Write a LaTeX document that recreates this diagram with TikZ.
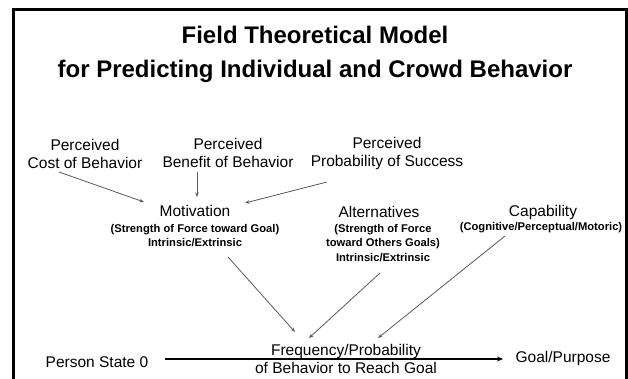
\documentclass[tikz,border=0pt]{standalone}
\usepackage{fontspec}
\setmainfont{Liberation Sans}
\usetikzlibrary{arrows.meta}
\begin{document}
\begin{tikzpicture}[x=1pt,y=-1pt,
  ttl/.style={font=\bfseries\fontsize{24}{34}\selectfont, align=center, inner sep=0},
  lbl/.style={font=\fontsize{15.5}{18}\selectfont, align=center, inner sep=0},
  sub/.style={font=\bfseries\fontsize{11.2}{14.5}\selectfont, align=center, inner sep=0},
  con/.style={draw=black!65, line width=0.8pt, -{Stealth[length=4.5pt,width=3.5pt]}},
  mainarrow/.style={draw=black, line width=1.8pt, -{Stealth[length=6pt,width=5pt]}}]
\useasboundingbox (0,0) rectangle (628,379);
\fill[white] (0,0) rectangle (628,379);
\draw[line width=3pt] (13.5,379) -- (13.5,9.5) -- (626.5,9.5) -- (626.5,379);
% title
\node[ttl] (title) at (315,54) {Field Theoretical Model\\for Predicting Individual and Crowd Behavior};
% top row
\node[lbl] (cost) at (85,154) {Perceived\\Cost of Behavior};
\node[lbl] (benefit) at (228,153) {Perceived\\Benefit of Behavior};
\node[lbl] (prob) at (387,153) {Perceived\\Probability of Success};
% middle row
\node[lbl] (mot) at (195,211) {Motivation};
\node[sub] (motd) at (195,235.5) {(Strength of Force toward Goal)\\Intrinsic/Extrinsic};
\node[lbl] (alt) at (379,212) {Alternatives};
\node[sub] (altd) at (383,243) {(Strength of Force\\toward Others Goals)\\Intrinsic/Extrinsic};
\node[lbl] (cap) at (543,212) {Capability};
\node[sub] (capd) at (541,228) {(Cognitive/Perceptual/Motoric)};
% bottom row
\node[lbl] (person) at (97,362) {Person State 0};
\node[lbl] (freq) at (346,359) {Frequency/Probability\\of Behavior to Reach Goal};
\node[lbl] (goal) at (563,358) {Goal/Purpose};
% connector end points
\coordinate (costS) at (59,172);
\coordinate (motW) at (144,202);
\coordinate (benS) at (197,172);
\coordinate (motN) at (197,197);
\coordinate (probS) at (327,182);
\coordinate (motE) at (245,203);
\coordinate (motS) at (228,257);
\coordinate (freqA) at (295,332);
\coordinate (altS) at (380,273);
\coordinate (freqB) at (309,338);
\coordinate (capS) at (505,236);
\coordinate (freqC) at (378,338);
\coordinate (personE) at (165,359);
\coordinate (goalW) at (503,359);
\draw[con] (costS) -- (motW);
\draw[con] (benS) -- (motN);
\draw[con] (probS) -- (motE);
\draw[con] (motS) -- (freqA);
\draw[con] (altS) -- (freqB);
\draw[con] (capS) -- (freqC);
\draw[mainarrow] (personE) -- (goalW);
\end{tikzpicture}
\end{document}
